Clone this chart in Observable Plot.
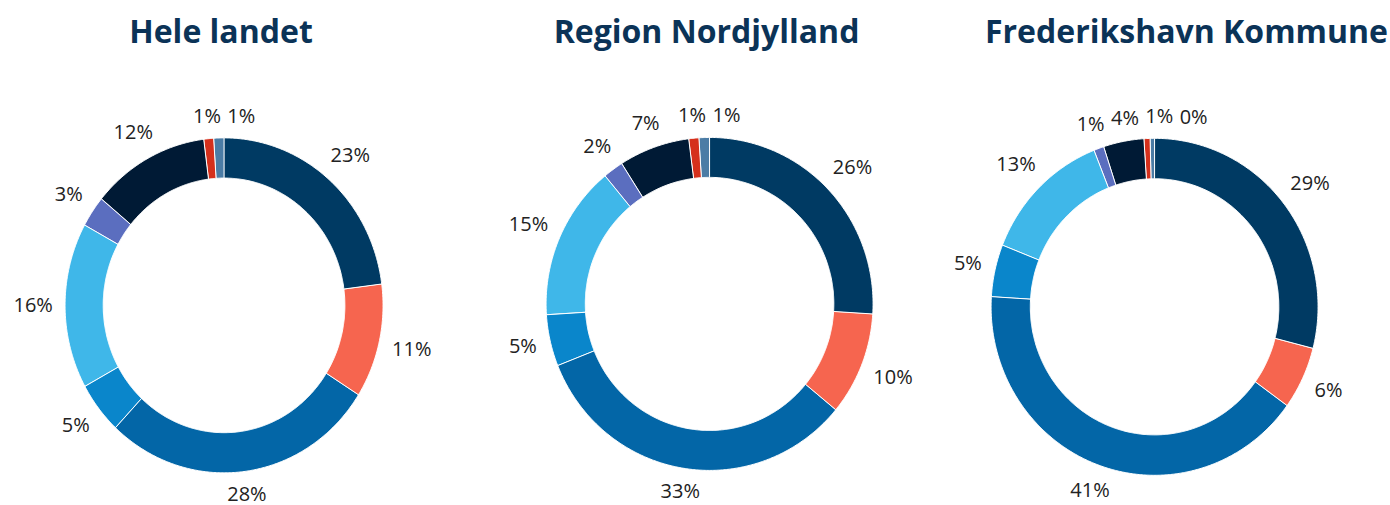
<!DOCTYPE html>
<html>
<head>
<meta charset="utf-8">
<script src="https://cdn.jsdelivr.net/npm/d3@7"></script>
<script src="https://cdn.jsdelivr.net/npm/@observablehq/plot@0.6"></script>
<style>
html, body { margin: 0; padding: 0; background: #fff; width: 1390px; height: 505px; overflow: hidden; font-family: "Open Sans", sans-serif; }
.title { position: absolute; width: 600px; text-align: center; font-weight: 700; font-size: 32px; line-height: 32px; color: #0b3357; white-space: nowrap; }
.chart { position: absolute; }
</style>
</head>
<body>
<div id="root"></div>
<script>
// ---- Data ----
const regions = ["Hele landet", "Region Nordjylland", "Frederikshavn Kommune"];
const categories = ["Kategori 1", "Kategori 2", "Kategori 3", "Kategori 4", "Kategori 5", "Kategori 6", "Kategori 7", "Kategori 8", "Kategori 9"];
const colors = ["#003a63", "#f6654f", "#0366a7", "#0a86cb", "#3fb7e9", "#5b6ebf", "#001a35", "#d5301c", "#4b7ca5"];
const heleLandet = [23, 11, 28, 5, 16, 3, 12, 1, 1];
const regionNordjylland = [26, 10, 33, 5, 15, 2, 7, 1, 1];
const frederikshavnKommune = [29, 6, 41, 5, 13, 1, 4, 0.6, 0.4];
const seriesValues = [heleLandet, regionNordjylland, frederikshavnKommune];

// ---- Layout (pixels) ----
const layout = [
  {cx: 224, cy: 304.5, kx: 159, ky: 167.5, tx: 221},
  {cx: 709.5, cy: 303.5, kx: 163.5, ky: 166.5, tx: 706.5},
  {cx: 1154.5, cy: 306.5, kx: 163.5, ky: 168.5, tx: 1186.5}
];
const INNER = 0.76;
const U = 1.45;
const FONT = 20;

const root = document.getElementById("root");

function build(values, L) {
  const total = d3.sum(values);
  const pts = [];
  const labs = [];
  let acc = 0;
  values.forEach((v, i) => {
    const a0 = acc / total * 2 * Math.PI;
    acc += v;
    const a1 = acc / total * 2 * Math.PI;
    const n = Math.max(2, Math.ceil((a1 - a0) / (Math.PI / 360)));
    for (let j = 0; j <= n; j++) {
      const a = a0 + (a1 - a0) * j / n;
      pts.push({id: categories[i], color: colors[i], x: Math.sin(a), y: Math.cos(a)});
    }
    for (let j = n; j >= 0; j--) {
      const a = a0 + (a1 - a0) * j / n;
      pts.push({id: categories[i], color: colors[i], x: INNER * Math.sin(a), y: INNER * Math.cos(a)});
    }
    const mid = (a0 + a1) / 2;
    const s = Math.sin(mid), c = Math.cos(mid);
    const text = Math.round(v) + "%";
    const w = (text.length - 1) * 11.44 + 16.9;
    const h = 18;
    const dpx = 12 + Math.abs(s) * w / 2 + Math.abs(c) * 9;
    // pixel centre relative to donut centre
    labs.push({text, mid, w, h, px: s * (L.kx + dpx), py: -c * (L.ky + dpx)});
  });
  // simple collision avoidance in the upper-left / top zone: push right
  const zone = labs.filter(d => d.mid > Math.PI * 1.5);
  for (let i = 1; i < zone.length; i++) {
    const p = zone[i - 1], q = zone[i];
    if (Math.abs(p.py - q.py) < q.h) {
      const minX = p.px + p.w / 2 + 6 + q.w / 2;
      if (q.px < minX) q.px = minX;
    }
  }
  labs.forEach(d => { d.x = d.px / L.kx; d.y = -d.py / L.ky; });
  return {pts, labs};
}

regions.forEach((name, k) => {
  const L = layout[k];
  const {pts, labs} = build(seriesValues[k], L);
  const W = 2 * U * L.kx, H = 2 * U * L.ky;

  const t = document.createElement("div");
  t.className = "title";
  t.textContent = name;
  t.style.left = (L.tx - 300) + "px";
  t.style.top = "15px";
  root.appendChild(t);

  const chart = Plot.plot({
    width: W,
    height: H,
    margin: 0,
    x: {domain: [-U, U], axis: null},
    y: {domain: [-U, U], axis: null},
    color: {type: "identity"},
    style: "background:transparent;overflow:visible;max-width:none;font-family:'Open Sans',sans-serif;",
    marks: [
      Plot.line(pts, {x: "x", y: "y", z: "id", fill: "color", stroke: "white", strokeWidth: 1, curve: "linear-closed"}),
      Plot.text(labs, {x: "x", y: "y", text: "text", fontSize: FONT, fill: "#222", textAnchor: "middle", lineAnchor: "middle"})
    ]
  });
  const holder = document.createElement("div");
  holder.className = "chart";
  holder.style.left = (L.cx - W / 2) + "px";
  holder.style.top = (L.cy - H / 2) + "px";
  holder.appendChild(chart);
  root.appendChild(holder);
});
</script>
</body>
</html>
